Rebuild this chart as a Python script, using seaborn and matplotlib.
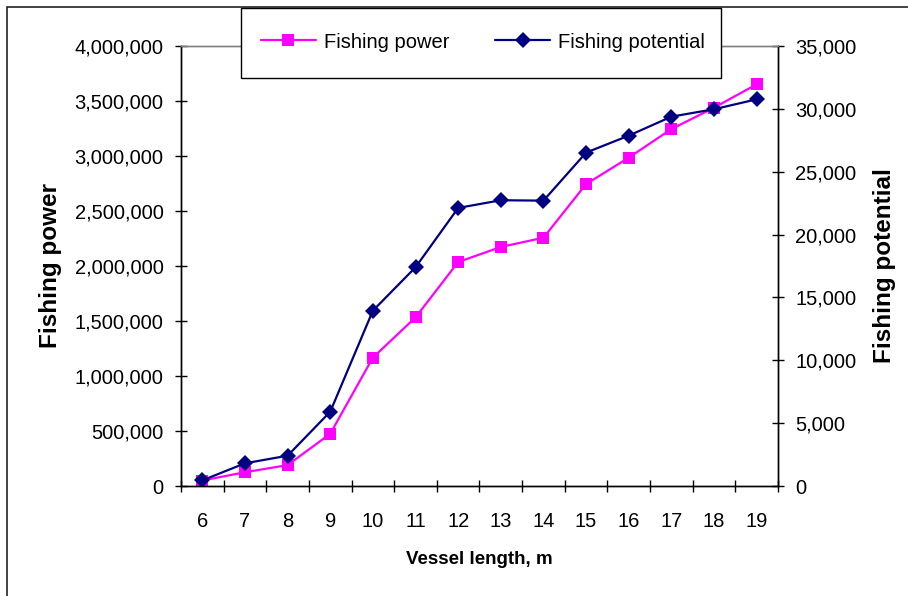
import matplotlib
matplotlib.use("Agg")
import seaborn as sns
import pandas as pd
from matplotlib import pyplot as plt
from matplotlib.patches import Rectangle
from matplotlib.ticker import FuncFormatter, MultipleLocator

# data
vessel_length = [6, 7, 8, 9, 10, 11, 12, 13, 14, 15, 16, 17, 18, 19]
fishing_power = [50000, 125000, 190000, 475000, 1167000, 1533000, 2036000,
                 2173000, 2257000, 2745000, 2985000, 3245000, 3439000, 3652000]
fishing_potential = [450, 1805, 2410, 5910, 13950, 17400, 22120,
                     22730, 22700, 26520, 27870, 29380, 29970, 30760]

df = pd.DataFrame({'length': vessel_length,
                   'power': fishing_power,
                   'potential': fishing_potential})

sns.set_style('white')
plt.rcParams['font.family'] = ['Liberation Sans', 'DejaVu Sans']
plt.rcParams['text.color'] = 'black'
plt.rcParams['axes.labelcolor'] = 'black'
plt.rcParams['xtick.color'] = 'black'
plt.rcParams['ytick.color'] = 'black'

pink = '#FF00FF'
navy = '#000080'

fig = plt.figure(figsize=(9.08, 5.96), dpi=100)
ax = fig.add_axes([181/908, 1-486/596, 597/908, 440/596])
ax2 = ax.twinx()

sns.lineplot(data=df, x='length', y='power', ax=ax, color=pink, marker='s',
             markersize=8, markeredgewidth=0, linewidth=1.6, label='Fishing power',
             legend=False)
sns.lineplot(data=df, x='length', y='potential', ax=ax2, color=navy, marker='D',
             markersize=8, markeredgewidth=0, linewidth=1.6, label='Fishing potential',
             legend=False)

ax.set_xlim(5.5, 19.5)
ax.set_ylim(0, 4000000)
ax2.set_ylim(0, 35000)

ax.set_xticks(vessel_length)
ax.set_xticklabels([str(v) for v in vessel_length])
ax.xaxis.set_minor_locator(MultipleLocator(1, offset=0.5))
ax.yaxis.set_major_locator(MultipleLocator(500000))
ax2.yaxis.set_major_locator(MultipleLocator(5000))
fmt = FuncFormatter(lambda v, p: f'{int(v):,}')
ax.yaxis.set_major_formatter(fmt)
ax2.yaxis.set_major_formatter(fmt)

ax.tick_params(axis='x', which='major', length=0, labelsize=14.5, pad=19)
ax.tick_params(axis='x', which='minor', direction='inout', length=9, width=1,
               bottom=True)
ax.tick_params(axis='y', direction='inout', length=9, width=1,
               labelsize=14.5, pad=8, left=True)
ax2.tick_params(axis='y', direction='inout', length=9, width=1,
                labelsize=14.5, pad=8, right=True)

for a in (ax, ax2):
    for s in a.spines.values():
        s.set_color('black')
        s.set_linewidth(1)
    a.spines['top'].set_color('#808080')

ax.set_xlabel('Vessel length, m', fontsize=13.5, fontweight='bold', labelpad=14)
ax.set_ylabel('Fishing power', fontsize=17.5, fontweight='bold', labelpad=9)
ax2.set_ylabel('Fishing potential', fontsize=17.5, fontweight='bold', labelpad=12)

# outer chart border
fig.patches.append(Rectangle((7/908, -0.05), 1.0, 1.05 - 7/596,
                             transform=fig.transFigure, fill=False,
                             edgecolor='#222222', linewidth=1.2, zorder=0))
# legend box
fig.patches.append(Rectangle((241/908, 1-78/596), 480/908, 70/596,
                             transform=fig.transFigure, facecolor='white',
                             edgecolor='black', linewidth=1, zorder=5))

h1, l1 = ax.get_legend_handles_labels()
h2, l2 = ax2.get_legend_handles_labels()
leg = fig.legend(h1 + h2, l1 + l2, loc='center', ncol=2, frameon=False,
                 bbox_to_anchor=(483/908, 1-42/596), fontsize=14.5,
                 handlelength=2.7, columnspacing=2.3, handletextpad=0.4)
leg.set_zorder(6)

fig.savefig('out.png', dpi=100)
